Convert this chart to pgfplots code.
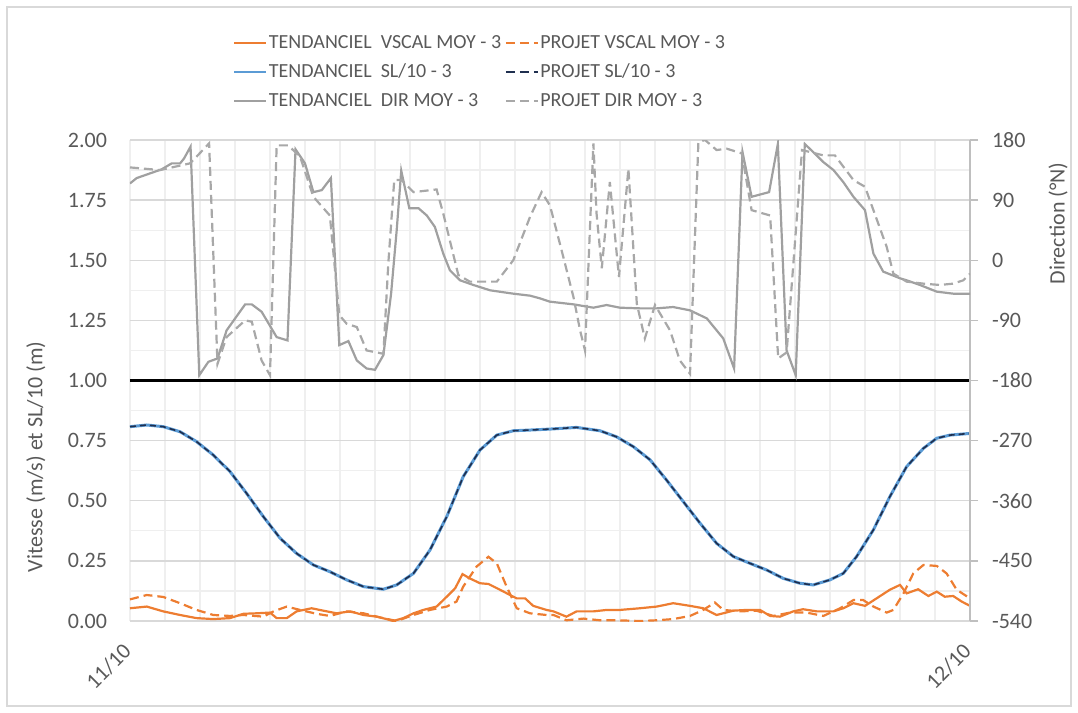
\documentclass[border=0pt]{standalone}
\usepackage{fontspec}
\setmainfont{Carlito}
\usepackage{pgfplots}
\usepackage{pgfplotstable}
\pgfplotsset{compat=1.18}
\definecolor{cor}{HTML}{ED7D31}
\definecolor{cbl}{HTML}{5B9BD5}
\definecolor{cnv}{HTML}{1F2F4F}
\definecolor{cgr}{HTML}{A0A0A0}
\definecolor{cgd}{HTML}{A8A8A8}
\definecolor{ctx}{HTML}{595959}
\definecolor{cgrid}{HTML}{D9D9D9}
\definecolor{cmin}{HTML}{EFEFEF}
\definecolor{cax}{HTML}{BFBFBF}

\pgfplotstableread{
h v
0 0.808
0.48 0.815
0.95 0.808
1.43 0.787
1.9 0.746
2.38 0.69
2.86 0.621
3.33 0.531
3.81 0.434
4.29 0.344
4.76 0.281
5.24 0.233
5.71 0.205
6.19 0.171
6.67 0.143
7.24 0.132
7.62 0.15
8.1 0.198
8.57 0.295
9.05 0.434
9.52 0.6
10.0 0.711
10.48 0.773
10.95 0.791
11.43 0.794
12.0 0.798
12.76 0.805
13.43 0.791
13.9 0.766
14.38 0.725
14.86 0.67
15.33 0.586
15.81 0.496
16.29 0.406
16.76 0.323
17.24 0.268
17.71 0.24
18.19 0.212
18.67 0.177
19.14 0.157
19.52 0.15
20.0 0.171
20.38 0.198
20.76 0.268
21.24 0.379
21.71 0.517
22.19 0.642
22.67 0.718
23.05 0.76
23.43 0.773
24.0 0.780
}\slTable

\pgfplotstableread{
h v
0 0.053
0.48 0.06
0.95 0.04
1.43 0.025
1.9 0.012
2.38 0.008
2.86 0.012
3.24 0.03
3.62 0.032
4.0 0.035
4.19 0.012
4.48 0.012
4.76 0.04
5.19 0.053
5.52 0.043
5.9 0.032
6.29 0.04
6.67 0.025
7.05 0.018
7.33 0.008
7.52 0.0
7.81 0.012
8.1 0.032
8.38 0.046
8.76 0.06
9.05 0.101
9.29 0.136
9.5 0.195
9.71 0.177
10.0 0.157
10.24 0.154
10.57 0.13
10.86 0.108
11.05 0.094
11.29 0.094
11.52 0.063
11.9 0.046
12.1 0.04
12.47 0.018
12.76 0.04
13.24 0.04
13.62 0.046
14.0 0.046
14.57 0.053
15.05 0.06
15.52 0.074
16.0 0.063
16.38 0.053
16.76 0.025
17.24 0.043
17.62 0.046
18.0 0.046
18.29 0.021
18.57 0.018
18.95 0.04
19.23 0.049
19.62 0.04
20.1 0.04
20.38 0.053
20.67 0.074
21.0 0.063
21.33 0.094
21.71 0.13
22.0 0.15
22.19 0.115
22.52 0.132
22.81 0.104
23.05 0.122
23.28 0.101
23.52 0.104
23.76 0.081
24.0 0.063
}\vtTable

\pgfplotstableread{
h v
0 0.09
0.48 0.108
0.95 0.1
1.43 0.074
1.9 0.046
2.38 0.025
2.86 0.021
3.24 0.025
3.81 0.018
4.1 0.04
4.48 0.06
4.86 0.046
5.33 0.03
5.71 0.021
6.19 0.04
6.67 0.032
7.14 0.015
7.62 0.0
8.1 0.025
8.57 0.046
9.05 0.06
9.33 0.081
9.52 0.143
9.9 0.226
10.24 0.267
10.48 0.24
10.76 0.143
11.05 0.053
11.43 0.032
11.9 0.025
12.1 0.025
12.47 0.003
12.95 0.01
13.43 0.003
13.9 0.003
14.57 0.0
15.05 0.003
15.52 0.008
16.0 0.021
16.38 0.046
16.71 0.077
16.95 0.046
17.43 0.04
17.9 0.043
18.38 0.021
18.86 0.035
19.33 0.035
19.81 0.021
20.29 0.053
20.67 0.087
20.95 0.087
21.24 0.06
21.62 0.035
21.81 0.046
22.1 0.115
22.38 0.198
22.67 0.233
23.05 0.229
23.33 0.198
23.62 0.13
24.0 0.094
}\vpTable

\pgfplotstableread{
h d
0 115
0.19 123
0.57 130
0.9 136
1.19 145
1.43 145
1.54 152
1.73 170
1.98 -172
2.24 -152
2.50 -147
2.76 -105
3.29 -66
3.48 -66
3.76 -77
4.19 -115
4.50 -120
4.73 166
5.0 145
5.24 102
5.48 105
5.74 123
5.98 -127
6.24 -121
6.48 -150
6.76 -162
7.0 -164
7.24 -142
7.46 -50
7.62 45
7.75 134
7.98 78
8.24 78
8.48 67
8.71 50
8.95 10
9.14 -15
9.43 -30
9.81 -37
10.29 -45
10.95 -50
11.43 -53
11.71 -57
12.0 -62
12.67 -66
13.24 -71
13.62 -67
14.0 -71
14.57 -72
15.05 -72
15.52 -70
16.0 -75
16.48 -87
16.95 -117
17.26 -162
17.50 162
17.76 95
18.26 102
18.51 174
18.76 -135
19.02 -172
19.28 174
19.52 162
19.81 147
20.1 135
20.38 117
20.67 95
21.0 75
21.24 10
21.52 -17
22.0 -27
22.19 -30
22.57 -37
23.05 -47
23.52 -50
24.0 -50
}\dtTable

\pgfplotstableread{
h d
0 139
0.86 135
1.71 145
1.9 155
2.26 175
2.5 -155
2.76 -115
3.29 -90
3.48 -92
3.76 -150
4.0 -172
4.19 172
4.52 172
4.86 155
5.24 95
5.71 67
5.98 -82
6.19 -95
6.48 -100
6.76 -135
7.24 -140
7.38 -5
7.55 120
7.76 120
8.1 102
8.76 106
8.95 70
9.38 -22
9.71 -32
10.48 -32
10.95 0
11.43 65
11.76 102
12.0 82
12.38 5
12.67 -55
12.86 -105
13.0 -135
13.24 175
13.33 70
13.48 -12
13.71 117
13.97 -25
14.24 137
14.48 -65
14.71 -117
15.0 -67
15.43 -105
15.71 -150
16.0 -170
16.24 177
16.43 180
16.76 165
17.05 167
17.48 160
17.76 75
18.29 67
18.52 -147
18.76 -138
19.2 165
19.81 157
20.14 157
20.67 120
21.0 110
21.33 62
21.62 20
21.81 -20
22.19 -32
22.67 -35
23.14 -37
23.52 -35
23.81 -30
24.0 -20
}\dpTable

\begin{document}
\begin{tikzpicture}
\path (-65pt,-46pt) rectangle (474pt,310.5pt);
\draw[cgrid, line width=0.6pt] (-61.5pt,-42.5pt) rectangle (470.5pt,307pt);
\begin{axis}[
  at={(0,0)}, anchor=south west,
  scale only axis, width=420pt, height=240.5pt,
  xmin=0, xmax=24, ymin=0, ymax=2,
  axis x line*=bottom, axis y line*=left,
  axis line style={draw=none},
  xtick={0,24}, xticklabels={11/10,12/10},
  minor xtick={1,2,...,23},
  ytick={0,0.25,0.5,0.75,1,1.25,1.5,1.75,2},
  yticklabels={0.00,0.25,0.50,0.75,1.00,1.25,1.50,1.75,2.00},
  minor ytick={0.125,0.375,0.625,0.875,1.125,1.375,1.625,1.875},
  xmajorgrids, xminorgrids, ymajorgrids, yminorgrids,
  major x grid style={cmin, line width=0.6pt},
  minor x grid style={cmin, line width=0.6pt},
  major y grid style={cgrid, line width=0.7pt},
  minor y grid style={cmin, line width=0.6pt},
  major tick length=0pt, minor tick length=0pt,
  ticklabel style={font=\fontsize{11}{13}\selectfont, text=ctx},
  yticklabel style={xshift=-8pt},
  xticklabel style={rotate=45, anchor=north east, yshift=-1pt, xshift=-7pt},
  every axis y label/.style={at={(axis description cs:-0.112,0.341)}, rotate=90, anchor=center, font=\fontsize{11}{13}\selectfont, text=ctx},
  ylabel={Vitesse (m/s) et SL/10 (m)},
]
\addplot[cor, line width=1.1pt] table[x=h,y=v] {\vtTable};
\addplot[cor, line width=1.1pt, dash pattern=on 4.5pt off 2.5pt] table[x=h,y=v] {\vpTable};
\addplot[cbl, line width=1.5pt] table[x=h,y=v] {\slTable};
\addplot[cnv, line width=0.8pt, dash pattern=on 3pt off 2pt] table[x=h,y=v] {\slTable};
\addplot[black, line width=1.5pt] coordinates {(0,1) (24,1)};
\end{axis}
\begin{axis}[
  at={(0,0)}, anchor=south west,
  scale only axis, width=420pt, height=240.5pt,
  xmin=0, xmax=24, ymin=-540, ymax=180,
  axis x line=none, axis y line*=right,
  y axis line style={cax, line width=0.7pt},
  ytick={-540,-450,-360,-270,-180,-90,0,90,180},
  yticklabels={-540,-450,-360,-270,-180,-90,0,90,180},
  ytick style={cax, line width=0.7pt},
  tick align=outside, major tick length=4pt,
  ticklabel style={font=\fontsize{11}{13}\selectfont, text=ctx},
  yticklabel style={xshift=3.5pt},
  every axis y label/.style={at={(axis description cs:1.105,0.827)}, rotate=90, anchor=center, font=\fontsize{11}{13}\selectfont, text=ctx},
  ylabel={Direction (°N)},
  legend columns=2,
  legend image code/.code={\draw[#1] (0pt,0pt) -- (16pt,0pt);},
  legend style={at={(0.1226,1.227)}, anchor=north west, draw=none, fill=none,
    font=\fontsize{10}{12}\selectfont, text=ctx, inner sep=0pt,
    nodes={inner sep=0.7pt, text height=7.8pt, text depth=2.5pt},
    row sep=2.8pt,
    /tikz/every even column/.append style={column sep=1pt}},
  legend cell align=left,
]
\addlegendimage{cor, line width=1.1pt}
\addlegendentry{TENDANCIEL\ \ VSCAL MOY - 3}
\addlegendimage{cor, line width=1.1pt, dash pattern=on 4.5pt off 2.5pt}
\addlegendentry{PROJET VSCAL MOY - 3}
\addlegendimage{cbl, line width=1.1pt}
\addlegendentry{TENDANCIEL\ \ SL/10 - 3}
\addlegendimage{cnv, line width=1.1pt, dash pattern=on 4.5pt off 2.5pt}
\addlegendentry{PROJET SL/10 - 3}
\addplot[cgr, line width=1.1pt] table[x=h,y=d] {\dtTable};
\addlegendentry{TENDANCIEL\ \ DIR MOY - 3}
\addplot[cgd, line width=1.1pt, dash pattern=on 4.5pt off 2.5pt] table[x=h,y=d] {\dpTable};
\addlegendentry{PROJET DIR MOY - 3}
\end{axis}
\end{tikzpicture}
\end{document}
